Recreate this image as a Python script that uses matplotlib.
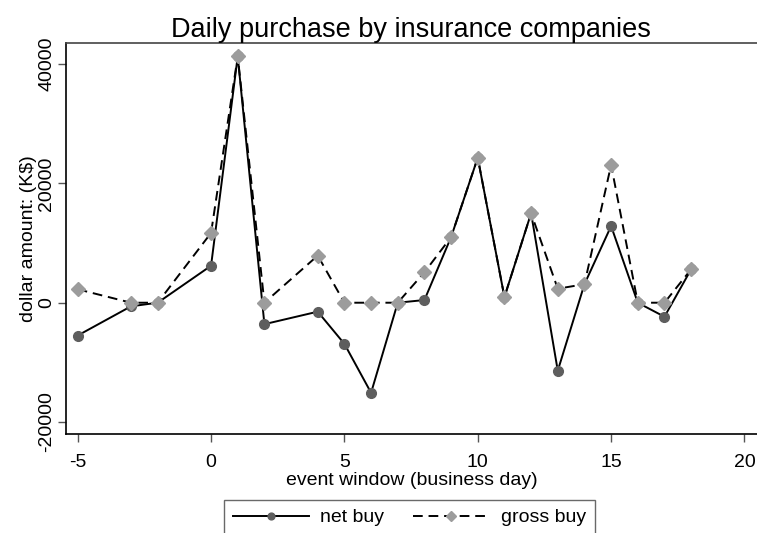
import matplotlib.pyplot as plt

plt.rcParams['font.family'] = ['Liberation Sans', 'DejaVu Sans']
plt.rcParams['axes.unicode_minus'] = False

days = [-5, -3, -2, 0, 1, 2, 4, 5, 6, 7, 8, 9, 10, 11, 12, 13, 14, 15, 16, 17, 18]
net_buy = [-5500, -600, 0, 6200, 41300, -3600, -1500, -6900, -15100, 0, 450,
           11000, 24300, 950, 15000, -11400, 3100, 12850, 0, -2350, 5600]
gross_buy = [2250, 0, 0, 11700, 41300, 0, 7900, 0, 0, 0, 5100,
             11000, 24300, 950, 15000, 2350, 3100, 23100, 0, 0, 5600]

W, H = 757, 533
fig = plt.figure(figsize=(W / 100, H / 100), dpi=100)
ax = fig.add_axes([65.7 / W, 1 - 434.3 / H, 1 - 65.7 / W, (434.3 - 43.3) / H])

ax.plot(days, net_buy, color='black', lw=1.4, marker='o', ms=7,
        mfc='#5e5e5e', mec='#5e5e5e', label='net buy', zorder=2)
ax.plot(days, gross_buy, color='black', lw=1.4, ls=(0, (5, 3)), marker='D', ms=7,
        mfc='#9c9c9c', mec='#9c9c9c', label='gross buy', zorder=3)

ax.set_xlim(-5.45, 20.47)
ax.set_ylim(-22060, 43490)
ax.set_xticks([-5, 0, 5, 10, 15, 20])
ax.set_yticks([-20000, 0, 20000, 40000])
ax.tick_params(axis='both', labelsize=14, length=6, width=1, color='#555555')
ax.tick_params(axis='x', pad=8)
ax.tick_params(axis='y', pad=1.5)
for lab in ax.get_yticklabels():
    lab.set_rotation(90)
    lab.set_va('center')

ax.spines['right'].set_visible(False)
for s in ['top', 'left', 'bottom']:
    ax.spines[s].set_linewidth(1.2)
ax.spines['top'].set_color('#444444')

ax.set_title('Daily purchase by insurance companies', fontsize=19.5, pad=3)
ax.set_xlabel('event window (business day)', fontsize=14, labelpad=1)
ax.set_ylabel('dollar amount: (K$)', fontsize=14, labelpad=1)

leg = fig.legend(loc='upper left', bbox_to_anchor=(224 / W, 1 - 500 / H),
                 borderaxespad=0, ncol=2, fontsize=14, frameon=True,
                 fancybox=False, edgecolor='#444444', borderpad=0.45,
                 handlelength=3.9, handletextpad=0.6, columnspacing=1.5,
                 markerscale=0.7)
leg.get_frame().set_linewidth(1.0)

fig.savefig('out.png', dpi=100)
